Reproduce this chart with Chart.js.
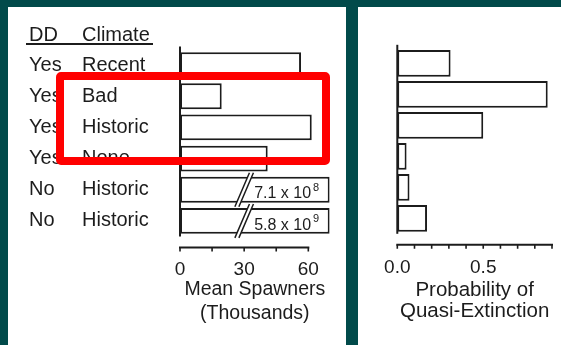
<!DOCTYPE html>
<html><head><meta charset="utf-8">
<script src="https://cdn.jsdelivr.net/npm/chart.js@4/dist/chart.umd.min.js"></script>
<style>
html,body{margin:0;padding:0;width:561px;height:345px;overflow:hidden;background:#014a4a;}
#p1{position:absolute;left:8px;top:7px;width:338px;height:338px;background:#fff;}
#p2{position:absolute;left:358px;top:7px;width:203px;height:338px;background:#fff;}
#c1{position:absolute;left:0;top:0;}
#c2{position:absolute;left:358px;top:0;}
#hl{position:absolute;left:56px;top:72px;width:274px;height:93px;border:8px solid #ff0000;box-sizing:border-box;border-radius:5px;}
</style></head>
<body>
<div id="p1"></div><div id="p2"></div>
<canvas id="c1" width="346" height="345"></canvas>
<canvas id="c2" width="203" height="345"></canvas>
<div id="hl"></div>
<script>
// ---- data ----
const ddHeader = 'DD';
const climateHeader = 'Climate';
const dd = ['Yes','Yes','Yes','Yes','No','No'];
const climate = ['Recent','Bad','Historic','None','Historic','Historic'];
const spawners = [56.6, 19.5, 61.6, 41, 7.1e8, 5.8e9];       // mean spawners (thousands)
const extinction = [0.31, 0.875, 0.50, 0.054, 0.071, 0.173]; // probability of quasi-extinction
const spawnerTicks = [0, 15, 30, 45, 60];
const spawnerTickLabels = ['0', '', '30', '', '60'];
const extinctionTicks = [0, 0.1, 0.2, 0.3, 0.4, 0.5, 0.6, 0.7, 0.8, 0.9];
const extinctionTickLabels = ['0.0', '', '', '', '', '0.5', '', '', '', ''];
const spawnerTitle = ['Mean Spawners', '(Thousands)'];
const extinctionTitle = ['Probability of', 'Quasi-Extinction'];
const spawnerAxisMax = 70;   // bars beyond this are broken
const spawnerBreakAt = 30;

const INK = '#1c1c1c';
const FONT = '"Liberation Sans", Arial, Helvetica, sans-serif';
Chart.defaults.font.family = FONT;
Chart.defaults.color = INK;

const rowKeys = climate.map((c, i) => dd[i] + ' ' + c);

// axis frame: vertical axis line + detached horizontal axis with tick marks
const frame = {
  id: 'frame',
  afterDatasetsDraw(chart, args, o) {
    const {ctx, chartArea: a, scales: {x}} = chart;
    ctx.save();
    ctx.strokeStyle = INK; ctx.lineWidth = 2;
    const x0 = x.getPixelForValue(o.ticks[0]);
    ctx.beginPath(); ctx.moveTo(x0, a.top - o.over); ctx.lineTo(x0, a.bottom); ctx.stroke();
    const ya = a.bottom + o.gap;
    const xe = x.getPixelForValue(o.ticks[o.ticks.length - 1]);
    ctx.beginPath(); ctx.moveTo(x0 - 1, ya); ctx.lineTo(xe + 1, ya); ctx.stroke();
    ctx.lineWidth = 1.6;
    ctx.beginPath();
    o.ticks.forEach(t => { const p = x.getPixelForValue(t); ctx.moveTo(p, ya); ctx.lineTo(p, ya + o.tick); });
    ctx.stroke();
    ctx.restore();
  }
};

// broken bars with their value written in
const breaks = {
  id: 'breaks',
  afterDatasetsDraw(chart, args, o) {
    if (!o.values) return;
    const {ctx, scales: {x}} = chart;
    const meta = chart.getDatasetMeta(0);
    const xb = x.getPixelForValue(o.at);
    ctx.save();
    o.values.forEach((v, i) => {
      if (v <= o.max) return;
      const bar = meta.data[i];
      const {y, height} = bar.getProps(['y', 'height'], true);
      const top = y - height / 2, bot = y + height / 2;
      const s = 0.43, g = 4, e = 4;
      const xl = yy => xb - g / 2 + (y - yy) * s;
      const xr = yy => xb + g / 2 + (y - yy) * s;
      ctx.fillStyle = '#fff';
      ctx.beginPath(); ctx.moveTo(xl(top - 1), top - 1); ctx.lineTo(xr(top - 1), top - 1);
      ctx.lineTo(xr(bot + 1), bot + 1); ctx.lineTo(xl(bot + 1), bot + 1); ctx.closePath(); ctx.fill();
      ctx.strokeStyle = INK; ctx.lineWidth = 1.5;
      ctx.beginPath();
      ctx.moveTo(xl(top - e), top - e); ctx.lineTo(xl(bot + e), bot + e);
      ctx.moveTo(xr(top - e), top - e); ctx.lineTo(xr(bot + e), bot + e);
      ctx.stroke();
      const exp = Math.floor(Math.log10(v));
      const man = (v / Math.pow(10, exp)).toFixed(1);
      const txt = man + ' x 10';
      ctx.fillStyle = INK; ctx.textAlign = 'left'; ctx.textBaseline = 'alphabetic';
      ctx.font = '16px ' + FONT;
      const tx = xb + 10;
      ctx.fillText(txt, tx, y + 8.6);
      const w = ctx.measureText(txt).width;
      ctx.font = '11px ' + FONT;
      ctx.fillText(String(exp), tx + w + 2, y + 1);
    });
    ctx.restore();
  }
};

// two-column row labels with underlined header
const rowLabels = {
  id: 'rowLabels',
  afterDraw(chart, args, o) {
    if (!o.columns) return;
    const {ctx, scales: {y}} = chart;
    ctx.save();
    ctx.fillStyle = INK; ctx.font = '20px ' + FONT;
    ctx.textAlign = 'left'; ctx.textBaseline = 'alphabetic';
    const step = y.getPixelForValue(1) - y.getPixelForValue(0);
    const hy = y.getPixelForValue(0) - step + 6.8;
    o.columns.forEach(col => {
      col.items.forEach((t, i) => ctx.fillText(t, col.x, y.getPixelForValue(i) + 5.5));
      ctx.fillText(col.header, col.x, hy);
    });
    ctx.strokeStyle = INK; ctx.lineWidth = 2;
    ctx.beginPath(); ctx.moveTo(26, hy + 3.2); ctx.lineTo(153, hy + 3.2); ctx.stroke();
    ctx.restore();
  }
};

function makeChart(id, values, opt) {
  return new Chart(document.getElementById(id), {
    type: 'bar',
    data: {
      labels: rowKeys,
      datasets: [{
        data: values.map(v => Math.min(v, opt.max)),
        backgroundColor: '#ffffff',
        borderColor: INK,
        borderWidth: 2,
        borderSkipped: false,
        barPercentage: opt.barPct,
        categoryPercentage: 1
      }]
    },
    options: {
      indexAxis: 'y',
      responsive: false,
      animation: false,
      events: [],
      layout: {padding: opt.padding, autoPadding: false},
      plugins: {
        legend: {display: false},
        tooltip: {enabled: false},
        frame: {ticks: opt.ticks, over: 3, gap: 11, tick: 4},
        breaks: opt.breaks || {},
        rowLabels: opt.rowLabels || {}
      },
      scales: {
        y: {
          type: 'category',
          grid: {display: false, drawTicks: false},
          border: {display: false},
          ticks: {display: false},
          afterFit: s => { s.width = 0; }
        },
        x: {
          type: 'linear',
          min: 0,
          max: opt.max,
          grid: {display: false, drawTicks: true, tickLength: opt.tickPad},
          border: {display: false},
          afterBuildTicks: s => { s.ticks = opt.ticks.map(v => ({value: v})); },
          afterFit: s => { s.height = opt.axisHeight; },
          ticks: {
            autoSkip: false, maxRotation: 0,
            padding: 0,
            font: {size: 19, lineHeight: 1.2},
            color: INK,
            callback: (v, i) => opt.tickLabels[i]
          },
          title: {
            display: true,
            text: opt.title,
            color: INK,
            font: {size: opt.titleSize, lineHeight: opt.titleLH},
            padding: {top: 0, bottom: opt.titleBottom}
          }
        }
      }
    },
    plugins: [frame, breaks, rowLabels]
  });
}

makeChart('c1', spawners, {
  max: spawnerAxisMax,
  barPct: 0.83,
  padding: {left: 180, right: 16.3, top: 49.5, bottom: 0},
  ticks: spawnerTicks, tickLabels: spawnerTickLabels,
  axisHeight: 108.5, tickPad: 22.1,
  title: spawnerTitle, titleSize: 19.5, titleLH: 1.27, titleBottom: 18.5,
  breaks: {values: spawners, max: spawnerAxisMax, at: spawnerBreakAt},
  rowLabels: {columns: [
    {header: ddHeader, items: dd, x: 29},
    {header: climateHeader, items: climate, x: 82}
  ]}
});

makeChart('c2', extinction, {
  max: 0.9,
  barPct: 0.86,
  padding: {left: 39.3, right: 9, top: 47.8, bottom: 0},
  ticks: extinctionTicks, tickLabels: extinctionTickLabels,
  axisHeight: 111.2, tickPad: 22.3,
  title: extinctionTitle, titleSize: 20.5, titleLH: 1.02, titleBottom: 23
});
</script>
</body></html>
